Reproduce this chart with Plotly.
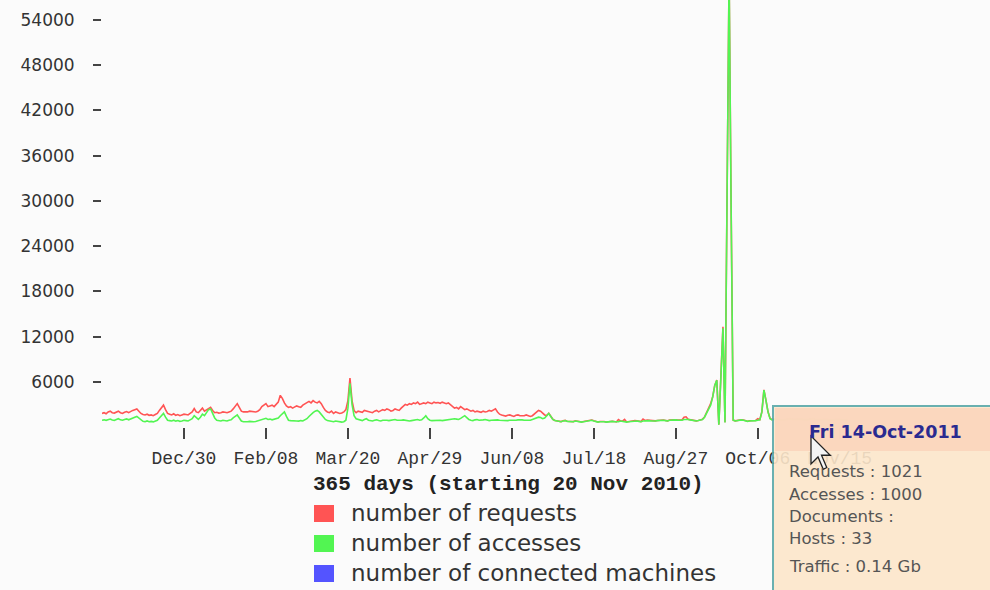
import plotly.graph_objects as go
import pandas as pd

width = 990
height = 590

start_day = "2010-11-20"
end_day = "2011-11-20"
n_days = 365

# daily number of requests (red)
requests = [
    1800, 1900, 1750, 2000, 2100, 1900, 1850, 2000, 2100, 1900,
    1800, 1950, 2050, 1900, 2100, 2200, 2300, 2400, 2100, 1800,
    1650, 1600, 1700, 1550, 1600, 1500, 1650, 1800, 2200, 2500,
    2900, 2300, 1800, 1700, 1600, 1750, 1550, 1650, 1500, 1600,
    1700, 1650, 1600, 1800, 2000, 2450, 2000, 1900, 2200, 2500,
    2100, 2300, 2500, 2600, 2200, 1900, 1950, 1850, 1900, 2000,
    1950, 1900, 2000, 2100, 2400, 2700, 3100, 2600, 2100, 2000,
    1950, 2000, 2100, 2050, 1950, 2000, 2100, 2300, 2700, 2900,
    3100, 2700, 2800, 2900, 2700, 3000, 3300, 4200, 3800, 3200,
    2800, 2600, 2700, 2500, 2600, 2800, 2700, 2600, 2900, 3100,
    3300, 3400, 3200, 3500, 3300, 3200, 3400, 3100, 2600, 2200,
    2000, 1900, 2100, 1800, 2000, 1900, 1800, 1850, 2000, 2300,
    3500, 6500, 3500, 2200, 1900, 2100, 2000, 1950, 2200, 2100,
    2000, 1950, 1900, 2100, 2200, 2000, 2100, 2300, 2200, 2400,
    2300, 2100, 2200, 2400, 2300, 2200, 2500, 2700, 3000, 2900,
    3100, 3000, 3200, 3100, 3300, 3000, 3100, 3200, 3100, 3300,
    3200, 3100, 3300, 3200, 3250, 3150, 3300, 3200, 3100, 3200,
    3000, 2700, 2500, 2600, 2400, 2700, 2500, 2300, 2400, 2200,
    2100, 2200, 2000, 2100, 2000, 1950, 2100, 2000, 2050, 2200,
    2100, 2300, 2400, 2000, 1700, 1600, 1500, 1450, 1550, 1600,
    1500, 1400, 1550, 1600, 1500, 1450, 1500, 1600, 1550, 1400,
    1500, 1700, 2000, 2200, 2100, 1800, 1600, 1520, 1820, 1420,
    1020, 870, 820, 780, 720, 820, 870, 770, 720, 670,
    720, 820, 770, 720, 670, 720, 770, 820, 870, 920,
    820, 720, 670, 720, 770, 720, 670, 720, 820, 770,
    720, 670, 1000, 820, 770, 1000, 670, 720, 770, 820,
    870, 820, 770, 720, 1050, 870, 920, 870, 820, 770,
    820, 870, 920, 970, 920, 870, 820, 920, 970, 1020,
    970, 920, 870, 920, 1300, 1350, 1020, 970, 920, 870,
    820, 870, 920, 1020, 1320, 1820, 2520, 3100, 4020, 5520,
    6220, 320, 6620, 13300, 620, 28920, 60020, 28920, 920, 820,
    870, 920, 970, 920, 820, 770, 820, 870, 920, 870,
    1100, 970, 2020, 4920, 3520, 2020, 1120, 970, 1021, 1070,
    1020, 970, 920, 970, 1020, 1070, 1120, 1020, 970, 1020,
    1070, 1020, 970, 920, 970, 1020, 1070, 1120, 1020, 970,
    920, 970, 1020, 1070, 1020, 970, 920, 970, 1020, 1070,
    1020, 970, 920, 970, 1020,
]

# daily number of accesses (green)
accesses = [
    900, 950, 880, 1000, 1050, 920, 880, 1000, 1100, 950,
    900, 1000, 1080, 950, 1100, 1200, 1300, 1400, 1150, 900,
    750, 700, 800, 700, 750, 680, 800, 900, 1200, 1500,
    1800, 1300, 900, 850, 800, 900, 780, 850, 750, 800,
    900, 850, 800, 950, 1100, 1500, 1200, 1000, 1300, 1700,
    1500, 2000, 2300, 2400, 1800, 1200, 900, 850, 800, 900,
    850, 800, 900, 950, 1200, 1400, 1600, 1200, 800, 700,
    650, 700, 750, 680, 700, 720, 800, 900, 1000, 1100,
    1150, 1000, 1050, 950, 1000, 1100, 1200, 1500, 1800, 2000,
    1400, 900, 850, 800, 750, 800, 780, 850, 800, 900,
    1100, 1400, 1700, 1900, 2100, 2200, 2000, 1700, 1300, 1000,
    850, 800, 750, 700, 800, 750, 700, 650, 700, 900,
    2500, 5800, 3000, 1500, 1100, 1000, 900, 850, 1000, 1100,
    900, 850, 800, 900, 950, 850, 800, 900, 950, 900,
    850, 900, 950, 1000, 900, 850, 900, 950, 880, 850,
    800, 850, 900, 950, 1000, 900, 950, 1200, 1500, 1100,
    900, 850, 880, 920, 950, 900, 850, 900, 950, 1000,
    950, 1000, 1100, 1050, 1000, 1150, 1300, 1500, 1250, 1000,
    900, 850, 950, 1000, 900, 880, 950, 1000, 900, 850,
    900, 950, 1000, 950, 900, 880, 850, 800, 850, 900,
    880, 850, 900, 950, 1000, 950, 900, 880, 850, 900,
    1000, 1100, 1200, 1300, 1250, 1100, 1200, 1500, 1800, 1400,
    1000, 850, 800, 750, 700, 800, 850, 750, 700, 650,
    700, 800, 750, 700, 650, 700, 750, 800, 850, 900,
    800, 700, 650, 700, 750, 700, 650, 700, 800, 750,
    700, 650, 700, 800, 750, 700, 650, 700, 750, 800,
    850, 800, 750, 700, 800, 850, 900, 850, 800, 750,
    800, 850, 900, 950, 900, 850, 800, 900, 950, 1000,
    950, 900, 850, 900, 1000, 1050, 1000, 950, 900, 850,
    800, 850, 900, 1000, 1300, 1800, 2500, 2900, 4000, 5500,
    6200, 300, 6600, 13100, 600, 28900, 60000, 28900, 900, 800,
    850, 900, 950, 900, 800, 750, 800, 850, 900, 850,
    900, 950, 2000, 4900, 3500, 2000, 1100, 950, 1000, 1050,
    1000, 950, 900, 950, 1000, 1050, 1100, 1000, 950, 1000,
    1050, 1000, 950, 900, 950, 1000, 1050, 1100, 1000, 950,
    900, 950, 1000, 1050, 1000, 950, 900, 950, 1000, 1050,
    1000, 950, 900, 950, 1000,
]

y_ticks = [6000, 12000, 18000, 24000, 30000, 36000, 42000, 48000, 54000]
y_top = 56650
x_tick_dates = ["2010-12-30", "2011-02-08", "2011-03-20", "2011-04-29", "2011-06-08",
                "2011-07-18", "2011-08-27", "2011-10-06", "2011-11-15"]
x_tick_labels = ["Dec/30", "Feb/08", "Mar/20", "Apr/29", "Jun/08",
                 "Jul/18", "Aug/27", "Oct/06", "Nov/15"]

series_names = ["number of requests", "number of accesses", "number of connected machines"]
series_colors = ["#ff5454", "#52f552", "#5454ff"]
chart_title = "365 days (starting 20 Nov 2010)"

hover_title = "Fri 14-Oct-2011"
hover_lines = ["Requests : 1021", "Accesses : 1000", "Documents :", "Hosts : 33", "Traffic : 0.14 Gb"]

# plot area in pixels
L, R, T, B = 102, 140, 0, 163
PW = width - L - R
PH = height - T - B

def px(x):
    return (x - L) / PW

def py(y):
    return (height - B - y) / PH

dates = pd.date_range(start_day, periods=n_days)

traces = [
    go.Scatter(x=dates, y=requests, mode="lines", name=series_names[0],
               line=dict(color=series_colors[0], width=1.6), showlegend=False),
    go.Scatter(x=dates, y=accesses, mode="lines", name=series_names[1],
               line=dict(color=series_colors[1], width=1.6), showlegend=False),
]

shapes = []
annotations = []

annotations.append(dict(x=px(509), y=py(485), xref="paper", yref="paper",
                        text="<b>%s</b>" % chart_title, showarrow=False,
                        xanchor="center", yanchor="middle",
                        font=dict(family="Liberation Mono", size=21, color="#222")))

# legend: coloured squares + labels
for i, (name, color) in enumerate(zip(series_names, series_colors)):
    dy = 30 * i
    shapes.append(dict(type="rect", xref="paper", yref="paper",
                       x0=px(314), x1=px(334), y0=py(505 + dy), y1=py(522 + dy),
                       fillcolor=color, line=dict(width=0)))
    annotations.append(dict(x=px(349), y=py(513 + dy), xref="paper", yref="paper",
                            text=name, showarrow=False, xanchor="left", yanchor="middle",
                            font=dict(family="DejaVu Sans", size=23, color="#333")))

# hover box in the lower right corner
shapes.append(dict(type="rect", xref="paper", yref="paper", layer="above",
                   x0=px(773), x1=px(998), y0=py(406), y1=py(598),
                   fillcolor="#fde7cb", opacity=0.9,
                   line=dict(color="#5aa8a8", width=2)))
shapes.append(dict(type="rect", xref="paper", yref="paper", layer="above",
                   x0=px(775), x1=px(998), y0=py(408), y1=py(451),
                   fillcolor="#fbd5bb", opacity=0.9, line=dict(width=0)))
annotations.append(dict(x=px(885), y=py(432), xref="paper", yref="paper",
                        text="<b>%s</b>" % hover_title, showarrow=False,
                        xanchor="center", yanchor="middle",
                        font=dict(family="DejaVu Sans", size=17.5, color="#2a2a90")))
for ypix, line in zip([472, 494, 516, 538, 566], hover_lines):
    annotations.append(dict(x=px(787), y=py(ypix), xref="paper", yref="paper",
                            text=line, showarrow=False, xanchor="left", yanchor="middle",
                            font=dict(family="DejaVu Sans", size=16.5, color="#555")))

# mouse pointer
arrow = [(0, 0), (0, 16), (4, 12), (7, 19), (9, 18), (6, 11), (11, 11)]
tip_x, tip_y, k = 811, 436, 1.75
path = "M " + " L ".join("%f,%f" % (px(tip_x + ax * k), py(tip_y + ay * k)) for ax, ay in arrow) + " Z"
shapes.append(dict(type="path", path=path, xref="paper", yref="paper", layer="above",
                   fillcolor="#f4f4f4", line=dict(color="#222", width=1.3)))

layout = go.Layout(
    width=width,
    height=height,
    autosize=False,
    margin=dict(l=L, r=R, t=T, b=B, pad=0),
    paper_bgcolor="#fbfbfb",
    plot_bgcolor="#fbfbfb",
    showlegend=False,
    hovermode=False,
    xaxis=dict(
        type="date",
        range=[start_day, end_day],
        tickvals=x_tick_dates,
        ticktext=x_tick_labels,
        ticks="outside",
        ticklen=11,
        tickwidth=2,
        tickcolor="#444",
        ticklabelstandoff=3,
        tickfont=dict(family="Liberation Mono", size=18, color="#333"),
        showgrid=False,
        zeroline=False,
        showline=False,
    ),
    yaxis=dict(
        range=[0, y_top],
        tickvals=y_ticks,
        tickformat="d",
        ticks="outside",
        ticklen=8,
        tickwidth=1.5,
        tickcolor="#444",
        ticklabelstandoff=15,
        tickfont=dict(family="DejaVu Sans", size=17, color="#333"),
        showgrid=False,
        zeroline=False,
        showline=False,
    ),
    shapes=shapes,
    annotations=annotations,
)

fig = go.Figure(data=traces, layout=layout)
fig.write_html("out.html", config={"displayModeBar": False},
               post_script="document.body.style.margin='0';")
